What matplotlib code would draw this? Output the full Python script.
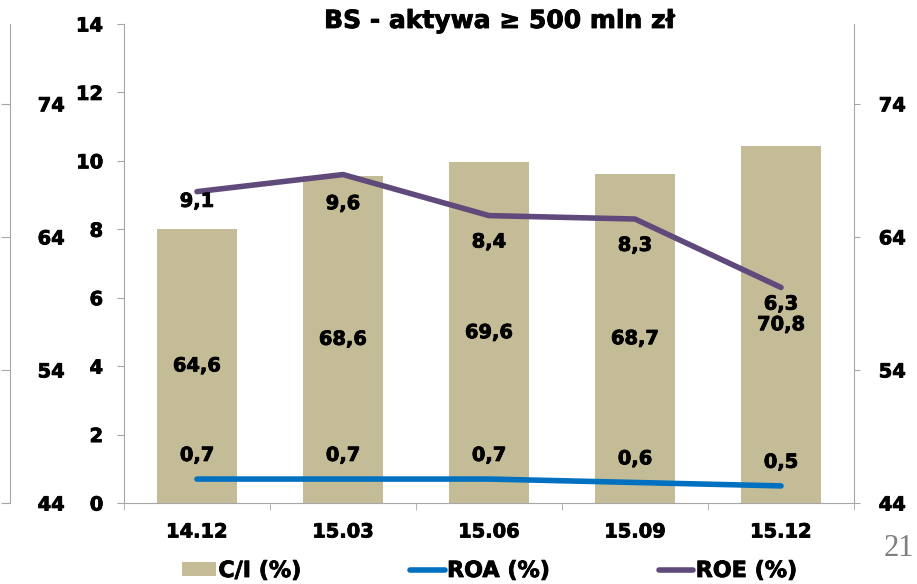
import matplotlib.pyplot as plt
import matplotlib.patheffects as pe
import numpy as np

plt.rcParams['font.family'] = ['DejaVu Sans']
plt.rcParams['font.weight'] = 'bold'

periods = ['14.12', '15.03', '15.06', '15.09', '15.12']
ci = [64.6, 68.6, 69.6, 68.7, 70.8]
roa = [0.7, 0.7, 0.7, 0.6, 0.5]
roe = [9.1, 9.6, 8.4, 8.3, 6.3]

CI_BASE = 44
BAR_COLOR = '#C4BC96'
ROA_COLOR = '#0070C0'
ROE_COLOR = '#604A7B'
SPINE = '#A6A6A6'
HEAVY = [pe.withStroke(linewidth=0.6, foreground='black')]


def pl(v):
    return f'{v:.1f}'.replace('.', ',')


W, H = 917, 584
fig = plt.figure(figsize=(W / 100, H / 100), dpi=100)
ax = fig.add_axes([124 / W, 81 / H, 730 / W, 479 / H])
x = np.arange(len(periods))

# C/I bars on the outer left scale (44-80)
bars = ax.bar(x, [v - CI_BASE for v in ci], bottom=CI_BASE, width=0.55,
              color=BAR_COLOR, label='C/I (%)')
texts = list(ax.bar_label(bars, labels=[pl(v) for v in ci], label_type='center',
                          fontsize=14, fontweight='bold'))
ax.set_ylim(44, 80)
ax.set_xlim(-0.5, len(periods) - 0.5)
ax.set_yticks([44, 54, 64, 74])
ax.spines['left'].set_position(('axes', -114 / 730))
for s in ['top', 'right']:
    ax.spines[s].set_visible(False)
for s in ['left', 'bottom']:
    ax.spines[s].set_color(SPINE)
ax.tick_params(axis='y', direction='out', length=6.5, pad=-46, color=SPINE,
               labelsize=14)
ax.set_xticks(x)
ax.set_xticklabels(periods)
ax.set_xticks(np.arange(-0.5, len(periods)), minor=True)
ax.tick_params(axis='x', which='major', length=0, pad=14, labelsize=14)
ax.tick_params(axis='x', which='minor', length=5, color=SPINE)

# ROA / ROE lines on the inner left scale (0-14)
ax2 = ax.twinx()
ax2.plot(x, roa, color=ROA_COLOR, lw=4, solid_capstyle='round', label='ROA (%)')
ax2.plot(x, roe, color=ROE_COLOR, lw=4, solid_capstyle='round', label='ROE (%)')
ax2.set_ylim(0, 14)
ax2.set_yticks(range(0, 15, 2))
ax2.yaxis.set_ticks_position('left')
ax2.yaxis.set_label_position('left')
for s in ['top', 'right', 'bottom']:
    ax2.spines[s].set_visible(False)
ax2.spines['left'].set_visible(True)
ax2.spines['left'].set_color(SPINE)
ax2.tick_params(axis='y', direction='out', length=5, pad=10, color=SPINE,
                labelsize=14)

for i, v in enumerate(roa):
    texts.append(ax2.annotate(pl(v), (x[i], v), xytext=(0, 17),
                              textcoords='offset points', ha='center', va='center',
                              fontsize=14, fontweight='bold'))
roe_dy = [-7, -21, -19, -19, -12]
for i, v in enumerate(roe):
    texts.append(ax2.annotate(pl(v), (x[i], v), xytext=(0, roe_dy[i]),
                              textcoords='offset points', ha='center', va='center',
                              fontsize=14, fontweight='bold'))

# right-hand copy of the C/I scale
ax3 = ax.twinx()
ax3.set_ylim(44, 80)
ax3.set_yticks([44, 54, 64, 74])
for s in ['top', 'left', 'bottom']:
    ax3.spines[s].set_visible(False)
ax3.spines['right'].set_color(SPINE)
ax3.tick_params(axis='y', direction='out', length=4.3, pad=13.5, color=SPINE,
                labelsize=14)

texts.append(fig.text(500 / W, 1 - 28 / H, 'BS - aktywa \u2265 500 mln z\u0142',
                      ha='center', va='baseline', fontsize=18, fontweight='bold'))

handles = [bars] + ax2.get_lines()
leg = fig.legend(handles, ['C/I (%)', 'ROA (%)', 'ROE (%)'], loc='center',
                 bbox_to_anchor=(489.5 / W, 13 / H), ncol=3, frameon=False,
                 fontsize=16, handlelength=1.55, handleheight=0.55,
                 handletextpad=0.1, columnspacing=4.9)
texts += leg.get_texts()

for a in (ax, ax2, ax3):
    texts += a.get_xticklabels() + a.get_yticklabels()
for t in texts:
    t.set_path_effects(HEAVY)

fig.text(884 / W, 1 - 548 / H, '21', family='Liberation Serif', fontweight='normal',
         fontsize=22, color='#7F7F7F', ha='left', va='center')

fig.savefig('out.png', dpi=100)
